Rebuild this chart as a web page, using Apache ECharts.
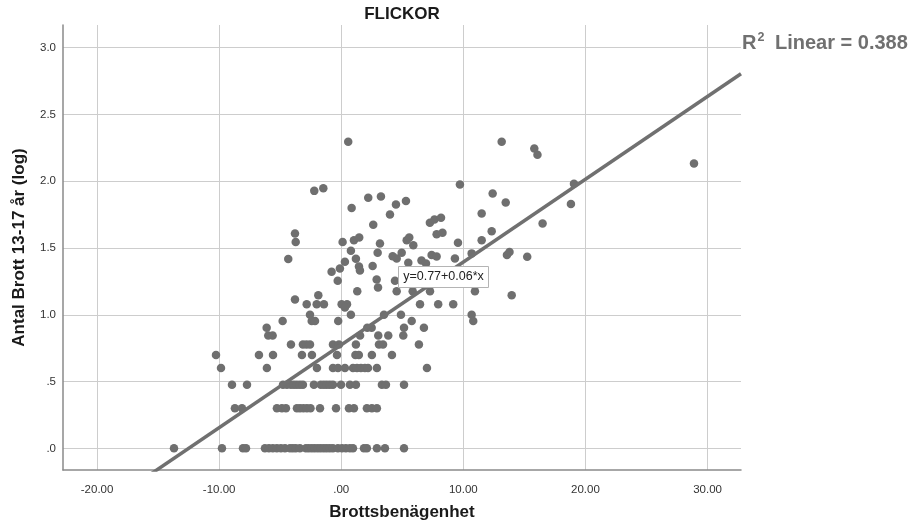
<!DOCTYPE html>
<html>
<head>
<meta charset="utf-8">
<title>FLICKOR</title>
<script src="https://cdn.jsdelivr.net/npm/echarts@6.0.0/dist/echarts.min.js"></script>
<style>
  html, body { margin: 0; padding: 0; background: #fff; }
  #chart { width: 922px; height: 529px; }
</style>
</head>
<body>
<div id="chart"></div>
<script>
// log(antal brott) ligger på fasta nivåer, x-värden avlästa per nivå
const nivaer = [0, 0.301, 0.477, 0.602, 0.699, 0.778, 0.845, 0.903, 0.954, 1.0, 1.079];
const xPerNiva = [
  [-13.70, -9.77, -8.05, -7.80, -6.25, -5.92, -5.60, -5.27, -4.94, -4.61, -4.20, -3.96, -3.72, -3.39,
   -2.89, -2.65, -2.40, -2.16, -1.91, -1.67, -1.42, -1.18, -0.93, -0.68, -0.27, 0.06, 0.38, 0.71, 0.96,
   1.86, 2.10, 2.92, 3.58, 5.14],
  [-8.71, -8.13, -5.27, -4.86, -4.53, -3.63, -3.38, -3.10, -2.81, -2.52, -1.74, -0.43, 0.63, 1.04, 2.10, 2.51, 2.92],
  [-8.95, -7.72, -4.77, -4.45, -4.12, -3.87, -3.63, -3.38, -3.14, -2.24, -1.67, -1.42, -1.18, -0.93, -0.68,
   -0.02, 0.71, 1.20, 3.33, 3.66, 5.14],
  [-9.85, -6.09, -1.99, -0.68, -0.27, 0.30, 0.96, 1.29, 1.61, 1.94, 2.19, 2.92, 7.02],
  [-10.26, -6.74, -5.59, -3.22, -2.40, -0.35, 1.16, 1.44, 2.51, 4.15],
  [-4.12, -3.14, -2.85, -2.56, -0.68, -0.19, 1.20, 3.09, 3.42, 6.36],
  [-5.98, -5.62, 1.54, 3.03, 3.85, 5.08],
  [-6.11, 2.13, 2.49, 5.14, 6.77],
  [-4.80, -2.42, -2.15, -0.25, 5.77, 10.81],
  [-2.56, 0.79, 3.50, 4.89, 10.68],
  [-2.83, -2.01, -1.42, 0.03, 0.47, 6.45, 7.94, 9.17]
];
// övriga punkter [brottsbenägenhet, log antal]
const spridda = [
  [0.30, 1.055], [-3.79, 1.114], [-1.88, 1.146], [13.96, 1.146],
  [1.31, 1.176], [4.54, 1.176], [5.85, 1.176], [7.27, 1.176], [10.95, 1.176], [3.01, 1.204],
  [-0.29, 1.255], [2.90, 1.265], [4.40, 1.255], [-0.79, 1.322], [-0.11, 1.347],
  [1.45, 1.362], [1.53, 1.332], [2.57, 1.365],
  [0.30, 1.397], [-4.34, 1.417], [1.20, 1.42], [5.49, 1.389], [6.57, 1.406], [6.94, 1.385],
  [4.54, 1.422], [4.21, 1.439], [9.31, 1.422], [15.23, 1.434],
  [7.40, 1.447], [7.81, 1.436], [2.98, 1.464], [4.95, 1.464], [10.68, 1.46], [13.57, 1.447],
  [13.78, 1.47], [0.79, 1.479],
  [5.90, 1.521], [3.17, 1.534], [9.56, 1.539], [0.11, 1.546], [-3.73, 1.546], [1.04, 1.559],
  [5.36, 1.559], [11.50, 1.559],
  [1.47, 1.579], [5.57, 1.579], [-3.79, 1.608], [7.81, 1.604], [8.29, 1.615], [12.32, 1.626],
  [2.62, 1.675], [16.49, 1.684], [7.26, 1.689], [7.63, 1.714], [8.17, 1.726], [3.99, 1.751], [11.50, 1.759],
  [0.85, 1.80], [4.48, 1.826], [5.30, 1.853], [13.47, 1.841], [18.81, 1.829], [2.21, 1.876],
  [3.25, 1.886], [12.40, 1.909],
  [-2.21, 1.928], [-1.47, 1.948], [9.72, 1.975], [19.06, 1.982],
  [28.89, 2.133], [15.81, 2.246], [16.07, 2.199], [0.57, 2.295], [13.14, 2.295]
];
const xTicks = [-20, -10, 0, 10, 20, 30];
const yTicks = [0, 0.5, 1.0, 1.5, 2.0, 2.5, 3.0];
const xRange = [-22.79, 32.74];
const yRange = [-0.162, 3.17];
const fitIntercept = 0.775;
const fitSlope = 0.062;
const fitText = 'y=0.77+0.06*x';
const r2 = 0.388;

const punkter = [];
nivaer.forEach((y, i) => xPerNiva[i].forEach(x => punkter.push([x, y])));
spridda.forEach(p => punkter.push(p));

const fitLine = xRange.map(x => [x, fitIntercept + fitSlope * x]);

const gray = '#6f6f6f';
const font = '"Liberation Sans", Arial, sans-serif';
const dropZero = s => s.replace(/^0\./, '.').replace(/^-0\./, '-.');

const chart = echarts.init(document.getElementById('chart'));
chart.setOption({
  animation: false,
  backgroundColor: '#fff',
  grid: { left: 63, right: 181, top: 25, bottom: 59, outerBoundsMode: 'none' },
  xAxis: {
    type: 'value',
    min: xRange[0],
    max: xRange[1],
    name: 'Brottsbenägenhet',
    nameLocation: 'middle',
    nameGap: 34,
    nameTextStyle: { fontFamily: font, fontWeight: 'bold', fontSize: 17, color: '#1a1a1a' },
    axisLine: { onZero: false, lineStyle: { color: '#8a8a8a', width: 1.5 } },
    axisTick: { show: false, customValues: xTicks },
    axisLabel: {
      customValues: xTicks,
      margin: 14,
      fontFamily: font,
      fontSize: 11.5,
      color: '#333',
      formatter: v => dropZero(v.toFixed(2))
    },
    splitLine: { show: true, lineStyle: { color: '#cdcdcd', width: 1 } }
  },
  yAxis: {
    type: 'value',
    min: yRange[0],
    max: yRange[1],
    name: 'Antal Brott 13-17 år (log)',
    nameLocation: 'middle',
    nameGap: 35,
    nameTextStyle: { fontFamily: font, fontWeight: 'bold', fontSize: 17, color: '#1a1a1a' },
    axisLine: { onZero: false, lineStyle: { color: '#8a8a8a', width: 1.5 } },
    axisTick: { show: false, customValues: yTicks },
    axisLabel: {
      customValues: yTicks,
      margin: 7,
      fontFamily: font,
      fontSize: 11.5,
      color: '#333',
      formatter: v => dropZero(v.toFixed(1))
    },
    splitLine: { show: true, lineStyle: { color: '#cdcdcd', width: 1 } }
  },
  series: [
    {
      type: 'scatter',
      data: punkter,
      symbolSize: 8.5,
      itemStyle: { color: gray, opacity: 1 },
      z: 2
    },
    {
      type: 'line',
      data: fitLine,
      showSymbol: false,
      symbol: 'none',
      clip: true,
      lineStyle: { color: '#707070', width: 3.5 },
      z: 3
    }
  ],
  graphic: [
    {
      type: 'text',
      x: 402,
      y: 6,
      style: { text: 'FLICKOR', font: 'bold 17px ' + font, fill: '#1a1a1a', textAlign: 'center' }
    },
    {
      type: 'text',
      x: 742,
      y: 31,
      style: {
        text: '{r|R}{s|2}{r| Linear = ' + r2.toFixed(3) + '}',
        rich: {
          r: { fontFamily: font, fontWeight: 'bold', fontSize: 20, fill: '#707070' },
          s: { fontFamily: font, fontWeight: 'bold', fontSize: 12.5, fill: '#707070', padding: [0, 5, 12, 1] }
        }
      }
    },
    {
      type: 'group',
      x: 398,
      y: 266,
      zlevel: 1,
      children: [
        { type: 'rect', zlevel: 1, shape: { x: 0.5, y: 0.5, width: 90, height: 21 }, style: { fill: '#fff', stroke: '#b4b4b4', lineWidth: 1 } },
        { type: 'text', zlevel: 1, x: 45.5, y: 11, style: { text: fitText, font: '12.5px ' + font, fill: '#222', textAlign: 'center', textVerticalAlign: 'middle' } }
      ]
    }
  ]
});
</script>
</body>
</html>
